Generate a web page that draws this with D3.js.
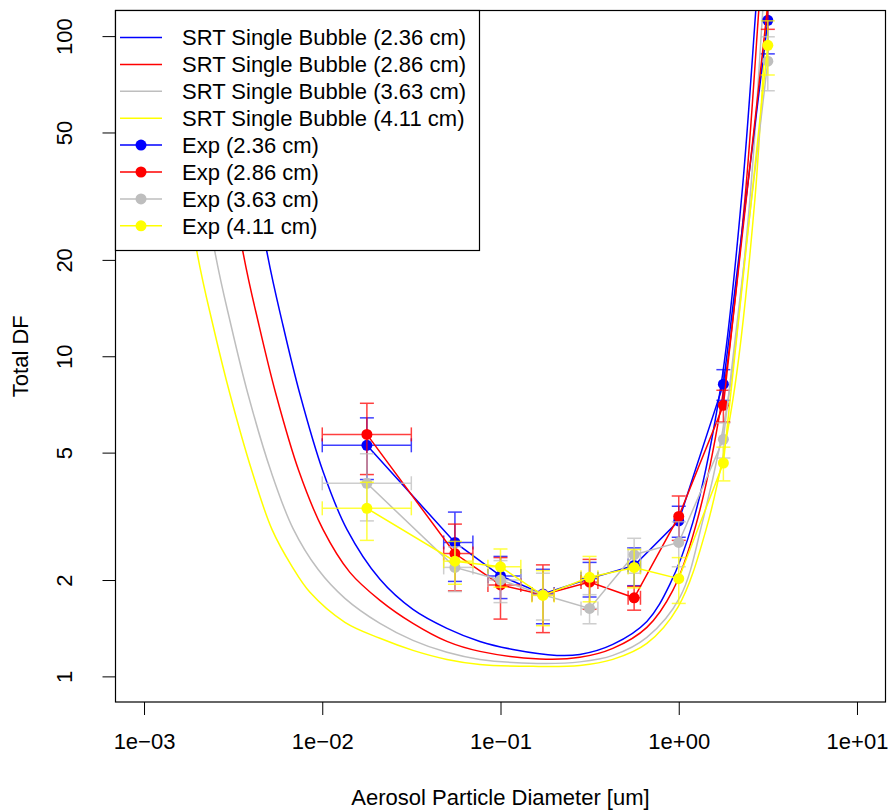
<!DOCTYPE html>
<html>
<head>
<meta charset="utf-8">
<script src="https://cdn.jsdelivr.net/npm/d3@7"></script>
<style>
  body { margin: 0; background: #fff; }
  text { font-family: "Liberation Sans", Arial, Helvetica, sans-serif; }
</style>
</head>
<body>
<div id="chart"></div>
<script>
// ---- data ----
var bubbleSizes = ["2.36 cm", "2.86 cm", "3.63 cm", "4.11 cm"];
var seriesColors = ["#0000ff", "#ff0000", "#bebebe", "#ffff00"];

// SRT single bubble model curves (diameter um, DF)
var srtBlueX = [0.002739, 0.004895, 0.006019, 0.007497, 0.01009, 0.01375, 0.02107, 0.03227, 0.05005, 0.07664, 0.1174, 0.2072, 0.2788, 0.4268, 0.6625, 0.8914, 1.1998, 1.7222, 2.2590, 2.7066, 2.8501];
var srtBlueY = [149.6, 21.13, 12.50, 7.608, 4.371, 2.879, 2.010, 1.619, 1.413, 1.286, 1.214, 1.163, 1.171, 1.259, 1.485, 1.939, 3.028, 8.058, 31.86, 120.6, 179.1];
var srtRedX = [0.002061, 0.003592, 0.004416, 0.005499, 0.007401, 0.01009, 0.01429, 0.02107, 0.03227, 0.05005, 0.07664, 0.1664, 0.2788, 0.4268, 0.6625, 0.9267, 1.2472, 1.7902, 2.3481, 2.8135, 2.9628];
var srtRedY = [149.6, 21.13, 12.50, 7.608, 4.371, 2.879, 2.113, 1.728, 1.464, 1.286, 1.197, 1.134, 1.147, 1.223, 1.423, 1.857, 2.963, 7.943, 30.72, 120.6, 179.1];
var srtGrayX = [0.001435, 0.002501, 0.003076, 0.003832, 0.005155, 0.006848, 0.009460, 0.01340, 0.02107, 0.03227, 0.05005, 0.07664, 0.1600, 0.2788, 0.4268, 0.6625, 1.0143, 1.3651, 1.9096, 2.5048, 2.9628, 3.1198];
var srtGrayY = [149.6, 21.13, 12.50, 7.608, 4.371, 2.900, 2.160, 1.753, 1.464, 1.296, 1.189, 1.130, 1.098, 1.110, 1.163, 1.324, 1.765, 3.072, 7.553, 30.72, 120.6, 179.1];
var srtYellowX = [0.001152, 0.001983, 0.002437, 0.003037, 0.004034, 0.005222, 0.006760, 0.008532, 0.01340, 0.02107, 0.03227, 0.05005, 0.07664, 0.1520, 0.2788, 0.4268, 0.6625, 0.9885, 1.4191, 2.0108, 2.6719, 3.1198, 3.2851];
var srtYellowY = [149.6, 21.13, 12.50, 7.608, 4.371, 2.879, 2.207, 1.830, 1.475, 1.315, 1.206, 1.130, 1.090, 1.075, 1.082, 1.130, 1.268, 1.643, 2.858, 7.29, 30.72, 120.6, 179.1];

// experiment
var expX = [0.0178, 0.0555, 0.1, 0.173, 0.316, 0.562, 1.0, 1.78, 3.16];
var expXLow = [0.01, 0.048, 0.085, 0.15, 0.283, 0.52, 1.0, 1.78, 3.16];
var expXHigh = [0.0316, 0.070, 0.13, 0.20, 0.352, 0.61, 1.0, 1.78, 3.16];
var expBlue = [5.27, 2.62, 2.06, 1.81, 2.02, 2.22, 3.06, 8.18, 112];
var expRed = [5.70, 2.42, 1.93, 1.80, 1.97, 1.76, 3.16, 7.03, 125];
var expGray = [4.01, 2.19, 2.0, 1.80, 1.63, 2.40, 2.62, 5.5, 83.5];
var expYellow = [3.35, 2.29, 2.20, 1.79, 2.04, 2.19, 2.02, 4.64, 93.6];
var errBlue = [1.15, 0.64, 0.31, 0.35, 0.25, 0.3, 0.34, 0.9, 24];
var errRed = [1.43, 0.57, 0.42, 0.43, 0.35, 0.15, 0.5, 0.8, 20];
var errGray = [0.95, 0.35, 0.3, 0.3, 0.17, 0.3, 0.42, 0.69, 16];
var errYellow = [0.69, 0.35, 0.3, 0.35, 0.33, 0.3, 0.33, 0.56, 18];

var xTicks = [1e-3, 1e-2, 1e-1, 1, 10];
var xTickLabels = ["1e\u221203", "1e\u221202", "1e\u221201", "1e+00", "1e+01"];
var yTicks = [1, 2, 5, 10, 20, 50, 100];

var srt = [
  { x: srtBlueX, y: srtBlueY },
  { x: srtRedX, y: srtRedY },
  { x: srtGrayX, y: srtGrayY },
  { x: srtYellowX, y: srtYellowY }
];
var exps = [
  { y: expBlue, e: errBlue },
  { y: expRed, e: errRed },
  { y: expGray, e: errGray },
  { y: expYellow, e: errYellow }
];

// ---- layout ----
var W = 888, H = 811;
var pLeft = 115.5, pRight = 885.5, pTop = 10.5, pBottom = 702;

var svg = d3.select("#chart").append("svg")
  .attr("width", W).attr("height", H);

// R style 4% padding on log ranges
var x = d3.scaleLog().domain([Math.pow(10, -3.16), Math.pow(10, 1.16)]).range([pLeft, pRight]);
var y = d3.scaleLog().domain([Math.pow(10, -0.08), Math.pow(10, 2.08)]).range([pBottom, pTop]);

svg.append("defs").append("clipPath").attr("id", "plotclip")
  .append("rect").attr("x", pLeft).attr("y", pTop)
  .attr("width", pRight - pLeft).attr("height", pBottom - pTop);

var plot = svg.append("g").attr("clip-path", "url(#plotclip)");

// model curves
var curveLine = d3.line()
  .x(function (d) { return x(d[0]); })
  .y(function (d) { return y(d[1]); })
  .curve(d3.curveCatmullRom.alpha(0.5));

srt.forEach(function (s, i) {
  var pts = s.x.map(function (v, j) { return [v, s.y[j]]; });
  plot.append("path").datum(pts)
    .attr("fill", "none")
    .attr("stroke", seriesColors[i])
    .attr("stroke-width", 1.5)
    .attr("d", curveLine);
});

// experiments
var cap = 7;
var expLine = d3.line()
  .x(function (d) { return x(d[0]); })
  .y(function (d) { return y(d[1]); });

exps.forEach(function (s, i) {
  var col = seriesColors[i];
  var g = plot.append("g");
  var pts = expX.map(function (v, j) { return [v, s.y[j]]; });
  g.append("path").datum(pts)
    .attr("fill", "none").attr("stroke", col).attr("stroke-width", 1.5)
    .attr("d", expLine);
  g.selectAll("circle").data(pts).enter().append("circle")
    .attr("cx", function (d) { return x(d[0]); })
    .attr("cy", function (d) { return y(d[1]); })
    .attr("r", 5.5)
    .attr("fill", col);

  var eb = g.append("g").attr("stroke", col).attr("stroke-width", 1.5).attr("opacity", 0.75);
  pts.forEach(function (d, j) {
    var cx = x(d[0]);
    var y1 = y(d[1] + s.e[j]), y0 = y(d[1] - s.e[j]);
    eb.append("line").attr("x1", cx).attr("x2", cx).attr("y1", y0).attr("y2", y1);
    eb.append("line").attr("x1", cx - cap).attr("x2", cx + cap).attr("y1", y0).attr("y2", y0);
    eb.append("line").attr("x1", cx - cap).attr("x2", cx + cap).attr("y1", y1).attr("y2", y1);
    if (expXHigh[j] > expXLow[j]) {
      var cy = y(d[1]);
      var xa = x(expXLow[j]), xb = x(expXHigh[j]);
      eb.append("line").attr("x1", xa).attr("x2", xb).attr("y1", cy).attr("y2", cy);
      eb.append("line").attr("x1", xa).attr("x2", xa).attr("y1", cy - cap).attr("y2", cy + cap);
      eb.append("line").attr("x1", xb).attr("x2", xb).attr("y1", cy - cap).attr("y2", cy + cap);
    }
  });
});

// axes
var xAxis = svg.append("g")
  .attr("transform", "translate(0," + pBottom + ")")
  .call(d3.axisBottom(x).tickValues(xTicks).tickSize(13).tickSizeOuter(0).tickPadding(18)
    .tickFormat(function (d, i) { return xTickLabels[i]; }));
xAxis.select(".domain").remove();
xAxis.selectAll("text").attr("font-size", 22).attr("font-family", null).attr("fill", "#000");
xAxis.selectAll("line").attr("stroke", "#000");

var yAxis = svg.append("g")
  .attr("transform", "translate(" + pLeft + ",0)")
  .call(d3.axisLeft(y).tickValues(yTicks).tickSize(13).tickSizeOuter(0).tickFormat(d3.format("d")));
yAxis.select(".domain").remove();
yAxis.selectAll("line").attr("stroke", "#000");
yAxis.selectAll("text")
  .attr("font-size", 22).attr("font-family", null).attr("fill", "#000")
  .attr("x", null).attr("dy", null)
  .attr("text-anchor", "middle")
  .attr("transform", "translate(-44,0) rotate(-90)");

// plot box
svg.append("rect")
  .attr("x", pLeft).attr("y", pTop)
  .attr("width", pRight - pLeft).attr("height", pBottom - pTop)
  .attr("fill", "none").attr("stroke", "#000").attr("stroke-width", 1.2);

// axis titles
svg.append("text")
  .attr("x", (pLeft + pRight) / 2).attr("y", 805)
  .attr("text-anchor", "middle").attr("font-size", 22)
  .text("Aerosol Particle Diameter [um]");
svg.append("text")
  .attr("transform", "translate(28," + ((pTop + pBottom) / 2) + ") rotate(-90)")
  .attr("text-anchor", "middle").attr("font-size", 22)
  .text("Total DF");

// legend
var legendLabels = bubbleSizes.map(function (s) { return "SRT Single Bubble (" + s + ")"; })
  .concat(bubbleSizes.map(function (s) { return "Exp (" + s + ")"; }));
var lg = svg.append("g");
lg.append("rect")
  .attr("x", pLeft).attr("y", pTop).attr("width", 364).attr("height", 240)
  .attr("fill", "#fff").attr("stroke", "#000").attr("stroke-width", 1.2);
legendLabels.forEach(function (lab, i) {
  var ly = 37.5 + i * 26.9;
  var col = seriesColors[i % 4];
  lg.append("line").attr("x1", 120).attr("x2", 162).attr("y1", ly).attr("y2", ly)
    .attr("stroke", col).attr("stroke-width", 1.5);
  if (i >= 4) {
    lg.append("circle").attr("cx", 141).attr("cy", ly).attr("r", 5.5).attr("fill", col);
  }
  lg.append("text").attr("x", 182).attr("y", ly).attr("dy", "0.36em")
    .attr("font-size", 22).text(lab);
});
</script>
</body>
</html>
